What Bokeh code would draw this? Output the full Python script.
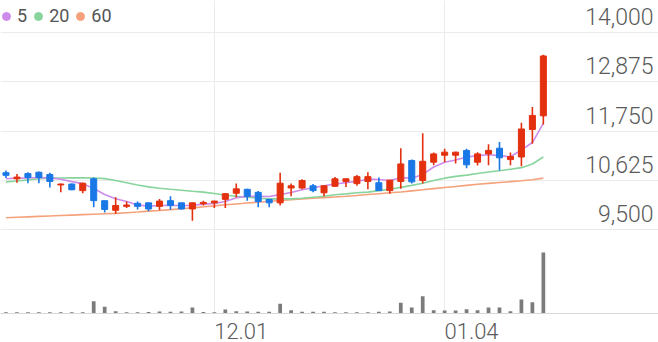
from bokeh.plotting import figure
from bokeh.models import (Range1d, FixedTicker, Grid, Label, ColumnDataSource,
                          Legend, LegendItem)
from bokeh.embed import file_html
from bokeh.resources import INLINE

# ---------------- data ----------------
opens = [10800, 10660, 10780, 10810, 10760, 10520, 10540, 10390, 10660, 10160,
         9940, 10030, 10100, 10110, 10030, 10160, 10110, 9970, 10090, 10110,
         10190, 10330, 10420, 10350, 10190, 10110, 10450, 10450, 10500, 10340,
         10490, 10600, 10550, 10600, 10570, 10390, 10600, 11080, 10620, 11040,
         11200, 11200, 11310, 11040, 11230, 11360, 11100, 11160, 11790, 12100]
highs = [10850, 10770, 10810, 10830, 10800, 10550, 10550, 10570, 10690, 10160,
         10240, 10140, 10140, 10120, 10200, 10260, 10110, 10120, 10160, 10160,
         10330, 10550, 10430, 10380, 10200, 10800, 10550, 10650, 10540, 10510,
         10700, 10670, 10750, 10810, 10690, 10640, 11360, 11100, 11700, 11260,
         11350, 11280, 11350, 11270, 11450, 11500, 11260, 11940, 12300, 13500]
lows = [10680, 10570, 10560, 10560, 10460, 10350, 10400, 10330, 10010, 9890,
        9860, 9990, 9960, 9920, 9940, 9950, 9960, 9700, 10050, 9990,
        9990, 10240, 10160, 10010, 10010, 10050, 10260, 10420, 10350, 10260,
        10470, 10470, 10500, 10420, 10380, 10320, 10430, 10550, 10550, 10970,
        11040, 11010, 10900, 10965, 10970, 10850, 10970, 10950, 11460, 11900]
closes = [10740, 10700, 10690, 10690, 10600, 10540, 10410, 10560, 10160, 9960,
          10050, 10060, 10030, 9970, 10150, 10050, 9970, 10110, 10120, 10150,
          10320, 10430, 10260, 10140, 10110, 10560, 10500, 10620, 10390, 10500,
          10660, 10660, 10710, 10710, 10390, 10630, 11000, 10590, 11060, 11230,
          11270, 11270, 10980, 11230, 11310, 11140, 11170, 11800, 12110, 13470]
volumes = [13, 12, 13, 12, 13, 12, 13, 13, 123, 67,
           23, 12, 13, 14, 20, 17, 20, 60, 14, 12,
           40, 23, 20, 17, 17, 97, 33, 17, 17, 17,
           13, 13, 13, 13, 17, 20, 107, 60, 173, 33,
           30, 30, 43, 33, 60, 60, 23, 140, 113, 610]
ma5 = [10660, 10675, 10680, 10690, 10682, 10650, 10595, 10550, 10440, 10300,
       10205, 10140, 10060, 10035, 10050, 10055, 10045, 10055, 10080, 10095,
       10140, 10225, 10258, 10260, 10256, 10298, 10345, 10410, 10455, 10500,
       10540, 10572, 10605, 10652, 10645, 10620, 10685, 10675, 10760, 10930,
       11040, 11090, 11160, 11190, 11210, 11190, 11165, 11320, 11490, 11930]
ma20 = [10590, 10610, 10635, 10660, 10675, 10680, 10682, 10682, 10680, 10665,
        10620, 10570, 10520, 10475, 10445, 10420, 10400, 10375, 10355, 10325,
        10285, 10260, 10240, 10215, 10200, 10200, 10200, 10215, 10240, 10260,
        10295, 10315, 10340, 10355, 10390, 10420, 10465, 10510, 10560, 10620,
        10675, 10715, 10745, 10780, 10815, 10845, 10880, 10915, 11000, 11160]
ma60 = [9770, 9780, 9790, 9800, 9810, 9820, 9830, 9840, 9850, 9860,
        9870, 9885, 9900, 9920, 9935, 9955, 9975, 9995, 10020, 10040,
        10065, 10085, 10105, 10125, 10145, 10165, 10180, 10200, 10215, 10230,
        10245, 10260, 10280, 10300, 10320, 10340, 10360, 10385, 10410, 10435,
        10460, 10485, 10510, 10535, 10555, 10575, 10595, 10615, 10640, 10675]
price_ticks = [9500, 10625, 11750, 12875, 14000]
x_tick_idx = [19, 40]
x_tick_labels = ["12.01", "01.04"]
ma_names = ["5", "20", "60"]

# ---------------- styles ----------------
UP = "#e3300f"
DOWN = "#1a78e6"
MA_COLORS = ["#cd8ceb", "#88d49c", "#f5a27c"]
TXT = "#5a5a5a"
FONT = "Roboto Light"
LABEL_SHIFT = 2.45   # date labels start just right of their grid line

idx = list(range(len(closes)))
colors = [UP if c >= o else DOWN for o, c in zip(opens, closes)]
src = ColumnDataSource(dict(
    x=idx, open=opens, high=highs, low=lows, close=closes,
    top=[max(o, c) for o, c in zip(opens, closes)],
    bottom=[min(o, c) for o, c in zip(opens, closes)],
    color=colors, vol=volumes))

p = figure(width=658, height=342, output_backend="svg", toolbar_location=None,
           x_range=Range1d(-0.5, 59.5), y_range=Range1d(7579, 14739),
           y_axis_location=None, min_border_left=0, min_border_right=0,
           min_border_top=0, min_border_bottom=29, outline_line_color=None,
           background_fill_color="white", border_fill_color="white")
p.extra_y_ranges = {"vol": Range1d(0, 3130)}

# grids
p.ygrid.visible = False
p.add_layout(Grid(dimension=1, ticker=FixedTicker(ticks=price_ticks),
                  grid_line_color="#ebebeb", grid_line_width=1))
p.xgrid.ticker = FixedTicker(ticks=x_tick_idx)
p.xgrid.grid_line_color = "#ebebeb"

# x axis: date labels placed to start at their grid line
label_pos = [i + LABEL_SHIFT for i in x_tick_idx]
p.xaxis.ticker = FixedTicker(ticks=label_pos)
p.xaxis.major_label_overrides = dict(zip(label_pos, x_tick_labels))
p.xaxis.major_label_text_font = FONT
p.xaxis.major_label_text_font_size = "22px"
p.xaxis.major_label_text_color = TXT
p.xaxis.major_label_standoff = 3
p.xaxis.major_tick_line_color = None
p.xaxis.minor_tick_line_color = None
p.xaxis.axis_line_color = "#d8d8d8"

# volume bars
p.vbar(x="x", top="vol", bottom=0, width=0.34, source=src, y_range_name="vol",
       fill_color="#7b7b7b", line_color=None)

# moving averages
ma_series = [ma5, ma20, ma60]
for vals, col in zip(ma_series[::-1], MA_COLORS[::-1]):
    p.line(idx, vals, line_color=col, line_width=1.6)

# candles
p.segment(x0="x", y0="low", x1="x", y1="high", source=src, line_color="color",
          line_width=1.6)
p.vbar(x="x", top="top", bottom="bottom", width=0.55, source=src,
       fill_color="color", line_color="color", line_width=1)

# legend (dots): zero-size markers on each MA series, shown only in the legend
items = []
for name, vals, col in zip(ma_names, ma_series, MA_COLORS):
    r = p.scatter(x=idx, y=vals, marker="circle", size=0,
                  fill_color=col, line_color=col)
    items.append(LegendItem(label=name, renderers=[r]))
legend = Legend(items=items, orientation="horizontal", location=(-4, 287),
                glyph_width=20, glyph_height=20, label_standoff=1, spacing=1,
                padding=0, margin=0, label_width=0, label_height=20,
                background_fill_alpha=0, border_line_alpha=0,
                label_text_font="Roboto", label_text_font_size="18px",
                label_text_color="#555555")
p.add_layout(legend)

# price labels (right, inside plot)
for t in price_ticks:
    p.add_layout(Label(x=653, x_units="screen", y=t, y_offset=16,
                       text=f"{t:,}", text_align="right",
                       text_baseline="alphabetic", text_font=FONT,
                       text_font_size="23px", text_color=TXT))

open("out.html", "w").write(file_html(p, INLINE))
